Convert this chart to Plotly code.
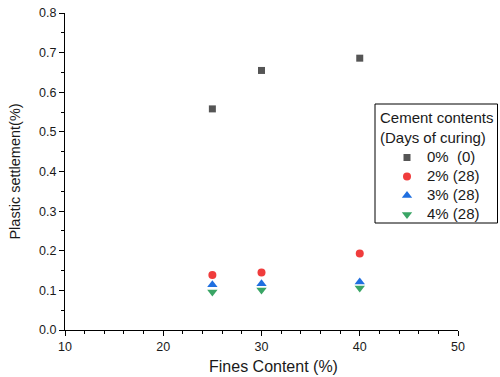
import plotly.graph_objects as go

fines = [25, 30, 40]
s0 = [0.558, 0.655, 0.686]
s2 = [0.139, 0.145, 0.193]
s3 = [0.114, 0.117, 0.121]
s4 = [0.096, 0.101, 0.106]
names = ["0%  (0)", "2% (28)", "3% (28)", "4% (28)"]
legend_title = "Cement contents<br>(Days of curing)"
x_title = "Fines Content (%)"
y_title = "Plastic settlement(%)"

FONT = "Liberation Sans, Arial, sans-serif"
TXT = "#1a1a1a"

W, H = 500, 377
PL, PR, PT, PB = 65, 458, 13, 330   # plot area in page pixels


def px_x(p):
    return (p - PL) / (PR - PL)


def px_y(p):
    return (PB - p) / (PB - PT)


def nm(s):
    return '<span style="font-size:15px">' + s.replace("  ", "\u00a0 ") + "</span>"


fig = go.Figure()
fig.add_trace(go.Scatter(x=fines, y=s0, mode="markers", name=nm(names[0]),
                         marker=dict(symbol="square", size=7, color="#555555")))
fig.add_trace(go.Scatter(x=fines, y=s2, mode="markers", name=nm(names[1]),
                         marker=dict(symbol="circle", size=8, color="#f03c3c")))
fig.add_trace(go.Scatter(x=fines, y=s3, mode="markers", name=nm(names[2]),
                         marker=dict(symbol="triangle-up", size=9, color="#1f6fe0")))
fig.add_trace(go.Scatter(x=fines, y=s4, mode="markers", name=nm(names[3]),
                         marker=dict(symbol="triangle-down", size=9, color="#3aa565")))

axis_common = dict(showline=True, linecolor="black", linewidth=1, ticks="outside",
                   ticklen=5, tickcolor="black", showgrid=False, zeroline=False,
                   tickfont=dict(family=FONT, size=12.5, color=TXT),
                   mirror=False, automargin=False, ticklabeloverflow="allow")
fig.update_layout(
    width=W, height=H,
    margin=dict(l=PL, r=W - PR, t=PT, b=H - PB),
    plot_bgcolor="white", paper_bgcolor="white",
    font=dict(family=FONT, color=TXT),
    xaxis=dict(range=[10, 50], dtick=10, tick0=10,
               minor=dict(dtick=2, ticks="outside", ticklen=3, tickcolor="black"),
               **axis_common),
    yaxis=dict(range=[0, 0.8], dtick=0.1, tickformat=".1f",
               minor=dict(dtick=0.05, ticks="outside", ticklen=3, tickcolor="black"),
               title=dict(text=y_title, font=dict(size=14.5, color=TXT), standoff=15),
               **axis_common),
    legend=dict(x=px_x(387), y=px_y(143), xanchor="left", yanchor="top",
                borderwidth=0, bgcolor="rgba(0,0,0,0)",
                font=dict(family=FONT, size=12, color=TXT), tracegroupgap=0),
    showlegend=True,
    shapes=[dict(type="rect", xref="paper", yref="paper",
                 x0=px_x(375), x1=px_x(497.5), y0=px_y(223), y1=px_y(104),
                 line=dict(color="black", width=1), fillcolor="white", layer="above")],
    annotations=[
        dict(text=legend_title, xref="paper", yref="paper",
             x=px_x(378), y=px_y(107), xanchor="left", yanchor="top",
             align="left", showarrow=False, font=dict(family=FONT, size=15, color=TXT)),
        dict(text=x_title, xref="paper", yref="paper",
             x=px_x(273), y=px_y(377), xanchor="center", yanchor="bottom",
             showarrow=False, font=dict(family=FONT, size=16, color=TXT)),
    ],
)
fig.write_html("out.html", config={"displayModeBar": False},
               post_script="document.body.style.margin='0';document.body.style.overflow='hidden';")
